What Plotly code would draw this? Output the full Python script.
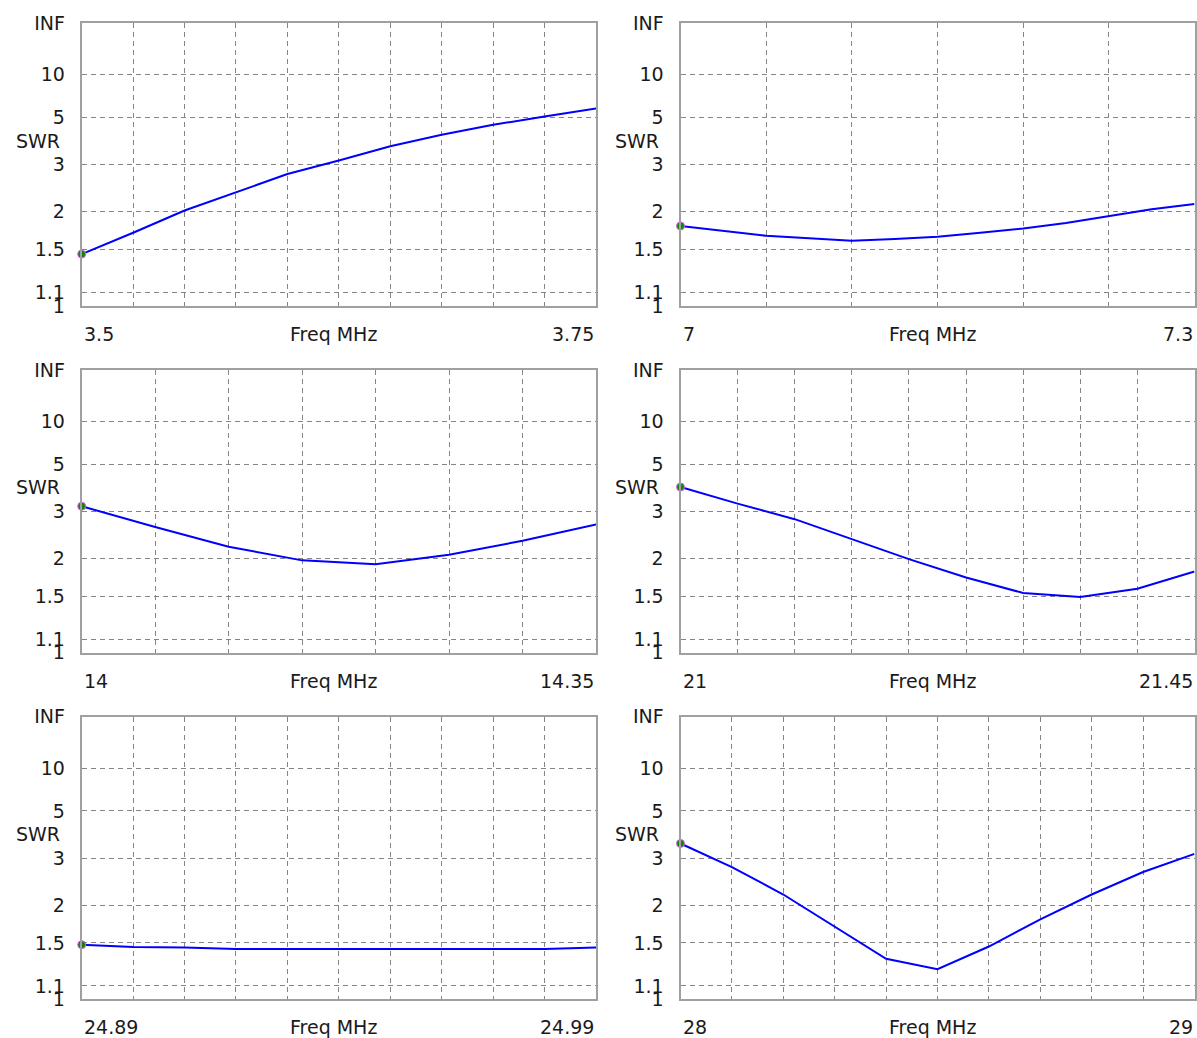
import plotly.graph_objects as go

# ---------------- data ----------------
f80 = [3.5, 3.525, 3.55, 3.575, 3.6, 3.625, 3.65, 3.675, 3.7, 3.725, 3.75]
swr80 = [1.45, 1.70, 2.02, 2.35, 2.75, 3.12, 3.60, 4.07, 4.57, 5.07, 5.64]

f40 = [7.0, 7.025, 7.05, 7.075, 7.1, 7.125, 7.15, 7.175, 7.2, 7.225, 7.25, 7.275, 7.3]
swr40 = [1.79, 1.72, 1.66, 1.63, 1.60, 1.62, 1.65, 1.70, 1.755, 1.83, 1.93, 2.04, 2.13]

f20 = [14.0, 14.05, 14.1, 14.15, 14.2, 14.25, 14.3, 14.35]
swr20 = [3.15, 2.60, 2.20, 1.97, 1.91, 2.06, 2.31, 2.66]

f15 = [21.0, 21.05, 21.1, 21.15, 21.2, 21.25, 21.3, 21.35, 21.4, 21.45]
swr15 = [3.83, 3.23, 2.79, 2.34, 1.99, 1.725, 1.535, 1.49, 1.585, 1.805]

f12 = [24.89, 24.9, 24.91, 24.92, 24.93, 24.94, 24.95, 24.96, 24.97, 24.98, 24.99]
swr12 = [1.48, 1.455, 1.45, 1.435, 1.435, 1.435, 1.435, 1.435, 1.435, 1.435, 1.45]

f10 = [28.0, 28.1, 28.2, 28.3, 28.4, 28.5, 28.6, 28.7, 28.8, 28.9, 29.0]
swr10 = [3.46, 2.76, 2.18, 1.69, 1.336, 1.24, 1.46, 1.79, 2.18, 2.64, 3.12]

freq_lo_labels = ["3.5", "7", "14", "21", "24.89", "28"]
freq_hi_labels = ["3.75", "7.3", "14.35", "21.45", "24.99", "29"]
grid_steps = [0.025, 0.05, 0.05, 0.05, 0.01, 0.1]

swr_tick_values = [1, 1.1, 1.5, 2, 3, 5, 10, float("inf")]
swr_tick_text = ["1", "1.1", "1.5", "2", "3", "5", "10", "INF"]

# ---------------- helpers ----------------
def refl(s):
    """SWR -> reflection coefficient (the chart's vertical scale)."""
    if s == float("inf"):
        return 1.0
    return (s - 1.0) / (s + 1.0)

W, H = 1197, 1038
col_px = [(81.7, 596.0), (680.5, 1194.5)]
row_px = [(23.3, 306.0), (370.0, 652.7), (716.7, 999.4)]

series = [(f80, swr80), (f40, swr40), (f20, swr20), (f15, swr15), (f12, swr12), (f10, swr10)]

FONT = "DejaVu Sans, Verdana, sans-serif"
FS = 19
TXT = "#1a1a1a"
GRID = "#858585"
BORDER = "#a0a0a0"

fig = go.Figure()
layout = dict(
    width=W, height=H,
    margin=dict(l=0, r=0, t=0, b=0, autoexpand=False),
    paper_bgcolor="white", plot_bgcolor="white",
    showlegend=False,
    font=dict(family=FONT, size=FS, color=TXT),
)
annotations = []

for i, (fx, fs) in enumerate(series):
    n = i + 1
    r, c = divmod(i, 2)
    x0, x1 = col_px[c]
    t, b = row_px[r]
    xs = "" if n == 1 else str(n)
    xa, ya = "x" + xs, "y" + xs
    lo, hi = fx[0], fx[-1]

    layout["xaxis" + xs] = dict(
        domain=[x0 / W, x1 / W], anchor=ya, range=[lo, hi],
        tick0=lo, dtick=grid_steps[i], showticklabels=False, ticks="",
        showgrid=True, gridcolor=GRID, gridwidth=1, griddash="5px,4px",
        showline=True, linecolor=BORDER, linewidth=2, mirror=True,
        zeroline=False, fixedrange=True, automargin=False,
    )
    layout["yaxis" + xs] = dict(
        domain=[1 - b / H, 1 - t / H], anchor=xa, range=[0, 1],
        tickmode="array", tickvals=[refl(v) for v in swr_tick_values],
        ticktext=swr_tick_text, ticks="", ticklabelstandoff=11,
        tickfont=dict(family=FONT, size=FS, color=TXT),
        showgrid=True, gridcolor=GRID, gridwidth=1, griddash="5px,4px",
        showline=True, linecolor=BORDER, linewidth=2, mirror=True,
        zeroline=False, fixedrange=True, automargin=False,
    )

    fig.add_trace(go.Scatter(
        x=fx, y=[refl(v) for v in fs], mode="lines",
        line=dict(color="#0000ff", width=2), xaxis=xa, yaxis=ya,
        hoverinfo="skip",
    ))
    fig.add_trace(go.Scatter(
        x=[fx[0]], y=[refl(fs[0])], mode="markers",
        marker=dict(color="#0a8a0a", size=8, line=dict(color="#e060e0", width=1)),
        xaxis=xa, yaxis=ya, cliponaxis=False, hoverinfo="skip",
    ))

    annotations += [
        dict(text="SWR", xref=xa + " domain", yref=ya + " domain", x=0, y=0.585,
             xanchor="right", yanchor="middle", xshift=-20, showarrow=False),
        dict(text=freq_lo_labels[i], xref=xa, yref=ya + " domain", x=lo, y=0,
             xanchor="left", yanchor="middle", yshift=-28, showarrow=False),
        dict(text="Freq MHz", xref=xa + " domain", yref=ya + " domain", x=0.49, y=0,
             xanchor="center", yanchor="middle", yshift=-28, showarrow=False),
        dict(text=freq_hi_labels[i], xref=xa, yref=ya + " domain", x=hi, y=0,
             xanchor="right", yanchor="middle", yshift=-28, showarrow=False),
    ]

layout["annotations"] = annotations
fig.update_layout(**layout)
fig.write_html(
    "out.html",
    config={"displayModeBar": False, "staticPlot": True},
    post_script=(
        "document.documentElement.style.margin='0';"
        "document.body.style.margin='0';"
        "document.body.style.overflow='hidden';"
    ),
)
